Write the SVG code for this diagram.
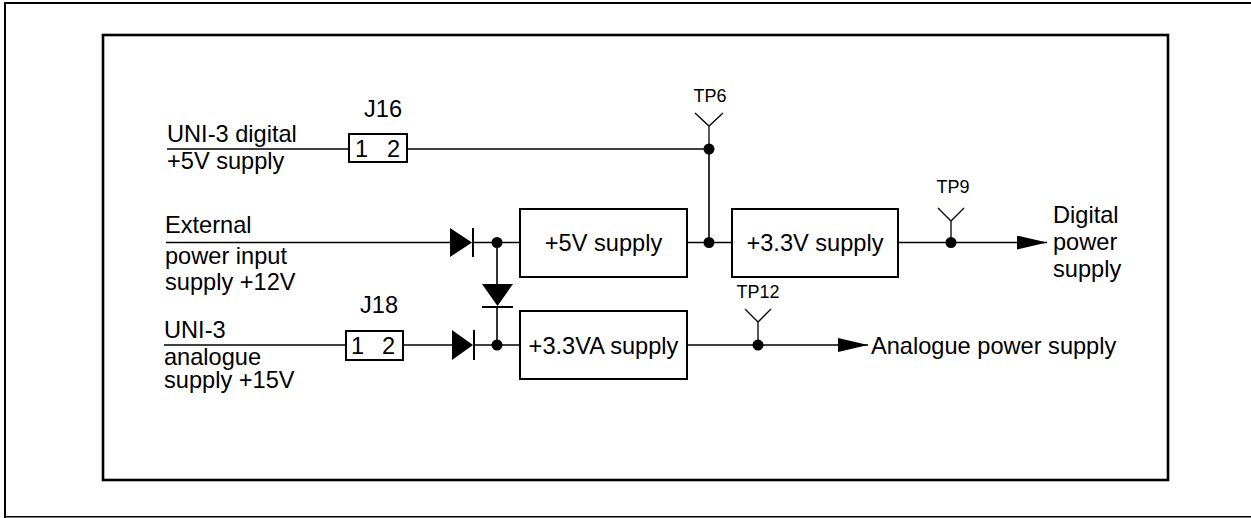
<svg xmlns="http://www.w3.org/2000/svg" width="1251" height="518" viewBox="0 0 1251 518">
<style>
text{font-family:"Liberation Sans",Arial,sans-serif;fill:#000}
.t{font-size:23.6px}
.tp{font-size:18px}
.w{stroke:#000;stroke-width:1.6;fill:none}
.tpl{stroke:#000;stroke-width:1.3;fill:none}
.box{stroke:#000;stroke-width:2;fill:#fff}
.frame{stroke:#000;fill:none}
.dot{fill:#000}
.tri{fill:#000}
.bar{stroke:#000;stroke-width:2}
</style>
<defs>
<marker id="arr" markerWidth="30" markerHeight="14" refX="30" refY="7" orient="auto" markerUnits="userSpaceOnUse">
<path d="M0,0 L30,7 L0,14 Z" fill="#000"/>
</marker>
</defs>
<rect width="1251" height="518" fill="#fff"/>
<g id="outer-frame">
<path class="frame" d="M5,518 V3 H1251" stroke-width="2"/>
<line class="frame" x1="4" y1="516.8" x2="1251" y2="516.8" stroke-width="1.4"/>
</g>
<g id="inner-frame">
<rect class="frame" x="103" y="35" width="1065" height="445" stroke-width="2.6"/>
</g>
<g id="connectors">
<line class="w" x1="167" y1="149" x2="349" y2="149"/>
<line class="w" x1="407" y1="149" x2="709" y2="149"/>
<line class="w" x1="709" y1="149" x2="709" y2="242.5"/>
<line class="w" x1="166" y1="242.5" x2="450" y2="242.5"/>
<line class="w" x1="473" y1="242.5" x2="520" y2="242.5"/>
<line class="w" x1="497" y1="242.5" x2="497" y2="285"/>
<line class="w" x1="497" y1="306" x2="497" y2="345"/>
<line class="w" x1="687" y1="242.5" x2="732" y2="242.5"/>
<line class="w" x1="898" y1="242.5" x2="1047" y2="242.5" marker-end="url(#arr)"/>
<line class="w" x1="164" y1="345" x2="346" y2="345"/>
<line class="w" x1="403" y1="345" x2="452" y2="345"/>
<line class="w" x1="474" y1="345" x2="520" y2="345"/>
<line class="w" x1="687" y1="345" x2="868" y2="345" marker-end="url(#arr)"/>
</g>
<g id="D1">
<polygon class="tri" points="450,228 450,257 472,242.5"/>
<line class="bar" x1="473" y1="228" x2="473" y2="257"/>
</g>
<g id="D2">
<polygon class="tri" points="482,284 513,284 497.5,306"/>
<line class="bar" x1="482" y1="307" x2="513" y2="307"/>
</g>
<g id="D3">
<polygon class="tri" points="452,330 452,360 473,345"/>
<line class="bar" x1="474" y1="330" x2="474" y2="360"/>
</g>
<g id="junctions">
<circle class="dot" cx="709" cy="149" r="5.5"/>
<circle class="dot" cx="709" cy="242.5" r="5.5"/>
<circle class="dot" cx="497" cy="242.5" r="5.5"/>
<circle class="dot" cx="497" cy="345" r="5.5"/>
<circle class="dot" cx="951" cy="242.5" r="5.5"/>
<circle class="dot" cx="758" cy="345" r="5.5"/>
</g>
<g id="TP6">
<path class="tpl" d="M695,113 L709,126 L723,113 M709,126 V149"/>
<text class="tp" x="710" y="102" text-anchor="middle">TP6</text>
</g>
<g id="TP9">
<path class="tpl" d="M938,208 L951,221 L964,208 M951,221 V242.5"/>
<text class="tp" x="953" y="193" text-anchor="middle">TP9</text>
</g>
<g id="TP12">
<path class="tpl" d="M745,309 L758,322 L771,309 M758,322 V345"/>
<text class="tp" x="758" y="298" text-anchor="middle">TP12</text>
</g>
<g id="J16">
<rect class="box" x="349" y="134" width="58" height="28"/>
<text class="t" x="383" y="117" text-anchor="middle">J16</text>
<text class="t" x="355" y="157">1 <tspan x="387">2</tspan></text>
</g>
<g id="J18">
<rect class="box" x="346" y="331" width="57" height="29"/>
<text class="t" x="379" y="313" text-anchor="middle">J18</text>
<text class="t" x="351" y="354">1 <tspan x="382">2</tspan></text>
</g>
<g id="supply5V">
<rect class="box" x="520" y="209" width="167" height="68"/>
<text class="t" x="603.5" y="251" text-anchor="middle">+5V supply</text>
</g>
<g id="supply33V">
<rect class="box" x="732" y="209" width="166" height="68"/>
<text class="t" x="815" y="251" text-anchor="middle">+3.3V supply</text>
</g>
<g id="supply33VA">
<rect class="box" x="520" y="311" width="167" height="68"/>
<text class="t" x="603.5" y="354" text-anchor="middle">+3.3VA supply</text>
</g>
<g id="labels">
<text class="t" x="167" y="142">UNI-3 digital</text>
<text class="t" x="167" y="169">+5V supply</text>
<text class="t" x="165" y="233">External</text>
<text class="t" x="165" y="264">power input</text>
<text class="t" x="165" y="290">supply +12V</text>
<text class="t" x="164" y="338">UNI-3</text>
<text class="t" x="164" y="365">analogue</text>
<text class="t" x="164" y="388">supply +15V</text>
<text class="t" x="1053" y="223">Digital</text>
<text class="t" x="1053" y="250">power</text>
<text class="t" x="1053" y="277">supply</text>
<text class="t" x="871" y="354">Analogue power supply</text>
</g>
</svg>
